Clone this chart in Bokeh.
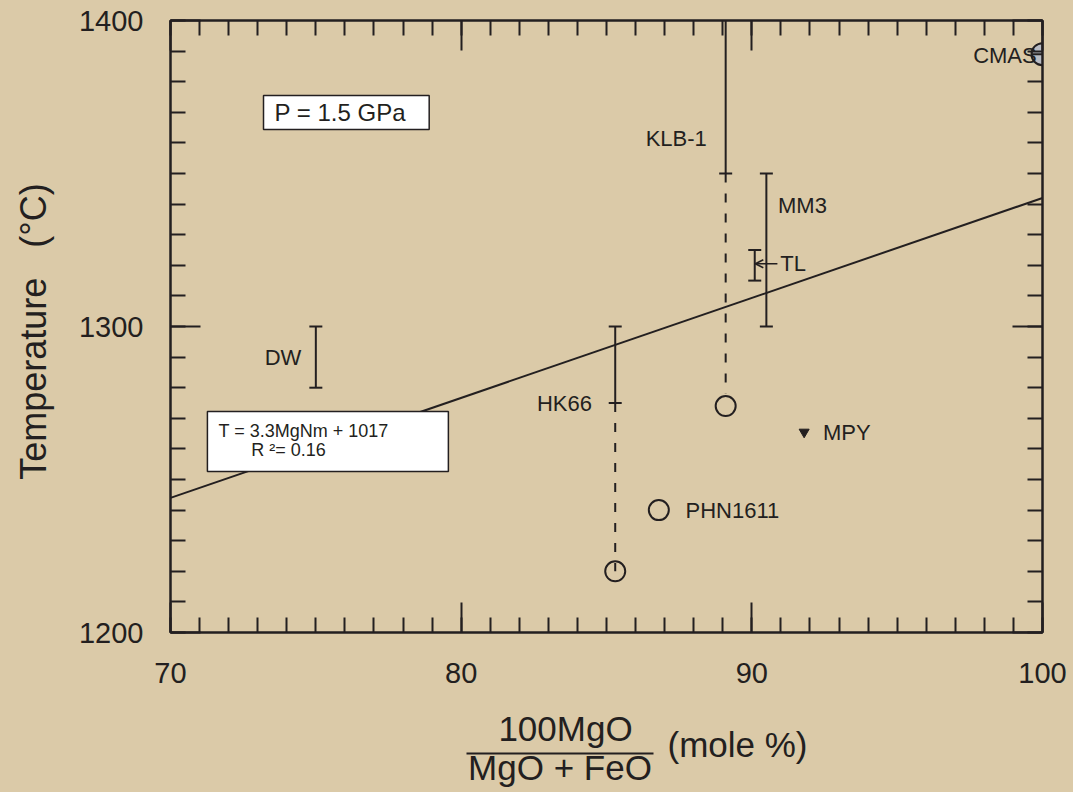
from bokeh.plotting import figure
from bokeh.layouts import column
from bokeh.models import (Label, BoxAnnotation, Arrow, OpenHead, LinearAxis,
                          Range1d, SingleIntervalTicker)
from bokeh.embed import file_html
from bokeh.resources import INLINE
from bokeh.core.properties import value

# ---------------- data ----------------
# solid error bars (x, low, high)
bar_names = ["DW", "HK66", "KLB-1", "MM3", "TL"]
bar_x = [75.0, 85.3, 89.1, 90.5, 90.1]
bar_lo = [1280, 1275, 1350, 1300, 1315]
bar_hi = [1300, 1300, 1400, 1350, 1325]
# caps drawn on the bars
cap_x = [75.0, 75.0, 85.3, 85.3, 89.1, 90.5, 90.5, 90.1, 90.1]
cap_y = [1280, 1300, 1275, 1300, 1350, 1300, 1350, 1315, 1325]
# dashed connections (x, top, bottom)
dash_x = [85.3, 89.1]
dash_top = [1275, 1350]
dash_bot = [1220, 1278]
# open circles
circ_names = ["HK66", "KLB-1", "PHN1611"]
circ_x = [85.3, 89.1, 86.8]
circ_y = [1220, 1274, 1240]
# MPY (inverted triangle)
mpy_x = [91.8]
mpy_y = [1265.5]
# CMAS (circle cross)
cmas_x = [100.0]
cmas_y = [1389]
# regression line T = 3.3 MgNm + 1017 (as drawn)
reg_x = [70, 100]
reg_y = [1244, 1342]

x_ticks = [70, 80, 90, 100]
y_ticks = [1200, 1300, 1400]

INK = "#231f20"
BG = "#dbcaa8"
FONT = "Liberation Sans"

p = figure(width=1073, height=700, output_backend="svg", toolbar_location=None,
           x_range=Range1d(70, 100), y_range=Range1d(1200, 1400),
           min_border_left=170, min_border_right=31, min_border_top=20, min_border_bottom=68)
p.background_fill_color = BG
p.border_fill_color = BG
p.outline_line_color = INK
p.outline_line_width = 2
p.xgrid.visible = False
p.ygrid.visible = False


def style_axis(ax, show_labels):
    ax.axis_line_color = INK
    ax.axis_line_width = 2
    ax.major_tick_line_color = INK
    ax.minor_tick_line_color = INK
    ax.major_tick_line_width = 2
    ax.minor_tick_line_width = 2
    ax.major_tick_in = 30
    ax.major_tick_out = 0
    ax.minor_tick_in = 15
    ax.minor_tick_out = 0
    if show_labels:
        ax.major_label_text_font = FONT
        ax.major_label_text_font_size = "29px"
        ax.major_label_text_color = INK
    else:
        ax.major_label_text_font_size = "0px"
        ax.major_label_text_color = None
        ax.major_label_standoff = 0
        ax.axis_label_standoff = 0


p.xaxis.ticker = SingleIntervalTicker(interval=10, num_minor_ticks=10)
p.yaxis.ticker = SingleIntervalTicker(interval=100, num_minor_ticks=10)
style_axis(p.xaxis[0], True)
style_axis(p.yaxis[0], True)
p.xaxis.major_label_standoff = 30
p.yaxis.major_label_standoff = 27

p.yaxis.axis_label = "Temperature\u00a0\u00a0\u00a0(°C)\u00a0"
p.yaxis.axis_label_text_font = FONT
p.yaxis.axis_label_text_font_size = "36px"
p.yaxis.axis_label_text_font_style = "normal"
p.yaxis.axis_label_text_color = INK
p.yaxis.axis_label_standoff = 22

top_ax = LinearAxis(ticker=SingleIntervalTicker(interval=10, num_minor_ticks=10))
right_ax = LinearAxis(ticker=SingleIntervalTicker(interval=100, num_minor_ticks=10))
style_axis(top_ax, False)
style_axis(right_ax, False)
p.add_layout(top_ax, "above")
p.add_layout(right_ax, "right")

# regression line
p.line(reg_x, reg_y, line_color=INK, line_width=2)

# solid bars
p.segment(x0=bar_x, y0=bar_lo, x1=bar_x, y1=bar_hi, line_color=INK, line_width=2)
p.scatter(cap_x, cap_y, marker="dash", size=13, line_color=INK, line_width=2)
# dashed links
p.segment(x0=dash_x, y0=dash_top, x1=dash_x, y1=dash_bot, line_color=INK, line_width=2,
          line_dash="9 11")
# circles
p.scatter(circ_x, circ_y, marker="circle", size=20, line_color=INK, line_width=2,
          fill_color=None)
p.scatter(mpy_x, mpy_y, marker="inverted_triangle", size=10, line_color=INK,
          fill_color=INK)
p.scatter(cmas_x, cmas_y, marker="circle_cross", size=22, line_color=INK, line_width=2,
          fill_color="#b9bcc4")

# TL arrow
p.add_layout(Arrow(end=OpenHead(size=8, line_color=INK, line_width=1.5), x_start=90.88, y_start=1320.5,
                   x_end=90.12, y_end=1320.5, line_color=INK, line_width=1.5))


def lab(x, y, text, align="left", size="22px", baseline="middle"):
    l = Label(x=x, y=y, text=text, text_font=FONT, text_font_size=size,
              text_color=INK, text_align=align, text_baseline=baseline)
    p.add_layout(l)
    return l


lab(74.5, 1290, "DW", align="right")
lab(84.5, 1275, "HK66", align="right")
lab(88.45, 1361.5, "KLB-1", align="right")
lab(90.9, 1339.5, "MM3")
lab(90.98, 1320.6, "TL")
lab(92.45, 1265.4, "MPY")
lab(87.72, 1239.9, "PHN1611")
lab(99.8, 1388.6, "CMAS", align="right")

# P box
p.add_layout(BoxAnnotation(left=73.2, right=78.9, bottom=1364.4, top=1375.5,
                           fill_color="white", fill_alpha=1, line_color=INK, line_alpha=1,
                           line_width=1.5))
lab(73.58, 1369.9, "P = 1.5 GPa", size="24px")

# equation box
p.add_layout(BoxAnnotation(left=71.27, right=79.56, bottom=1252.6, top=1272.2,
                           fill_color="white", fill_alpha=1, line_color=INK, line_alpha=1,
                           line_width=1.5))
lab(71.65, 1266.0, "T = 3.3MgNm + 1017", size="18px")
lab(72.78, 1259.5, "R ²= 0.16", size="18px")

# bottom strip: x axis title (fraction); its frame is aligned with the main frame,
# so its x range is given in page pixels of that frame (170 .. 1042)
p2 = figure(width=1073, height=92, output_backend="svg", toolbar_location=None,
            x_range=Range1d(170, 1042), y_range=Range1d(792, 700),
            x_axis_type=None, y_axis_type=None,
            min_border_left=170, min_border_right=31, min_border_top=0, min_border_bottom=0)
p2.background_fill_color = BG
p2.border_fill_color = BG
p2.outline_line_color = None
p2.xgrid.visible = False
p2.ygrid.visible = False
p2.text(x=[565], y=[728], text=["100MgO"], text_font=value(FONT), text_font_size="35px",
        text_color=INK, text_align="center", text_baseline="middle")
p2.text(x=[559.5], y=[767], text=["MgO + FeO"], text_font=value(FONT), text_font_size="35px",
        text_color=INK, text_align="center", text_baseline="middle")
p2.text(x=[667], y=[744], text=["(mole %)"], text_font=value(FONT), text_font_size="35px",
        text_color=INK, text_align="left", text_baseline="middle")
p2.segment(x0=[466], y0=[753], x1=[653], y1=[753], line_color=INK, line_width=2)

layout = column(p, p2, spacing=0)
html = file_html(layout, INLINE)
html = html.replace("</head>", "<style>html, body { background-color: %s; }</style></head>" % BG, 1)
open("out.html", "w").write(html)
